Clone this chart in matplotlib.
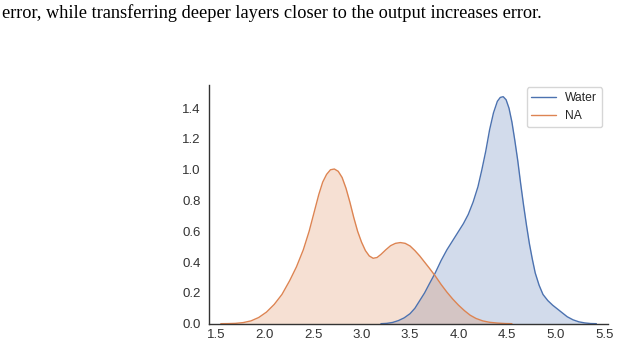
import numpy as np
import matplotlib
matplotlib.use('Agg')
import matplotlib.pyplot as plt
import seaborn as sns

# 密度曲線
na_x = [1.55, 1.62, 1.70, 1.78, 1.86, 1.94, 2.02, 2.10, 2.18, 2.26, 2.33, 2.40,
        2.46, 2.51, 2.56, 2.60, 2.64, 2.68, 2.72, 2.76, 2.80, 2.84, 2.88, 2.92,
        2.96, 3.00, 3.04, 3.08, 3.12, 3.16, 3.20, 3.25, 3.30, 3.35, 3.40, 3.45,
        3.50, 3.55, 3.60, 3.65, 3.70, 3.76, 3.82, 3.88, 3.94, 4.00, 4.06, 4.12,
        4.18, 4.25, 4.32, 4.40, 4.48, 4.55]
na_y = [0.0, 0.0005, 0.002, 0.007, 0.018, 0.040, 0.075, 0.125, 0.19, 0.28, 0.37, 0.48,
        0.60, 0.72, 0.84, 0.92, 0.97, 1.0, 1.005, 0.99, 0.95, 0.88, 0.79, 0.69,
        0.60, 0.53, 0.475, 0.44, 0.425, 0.43, 0.45, 0.48, 0.507, 0.522, 0.527, 0.522,
        0.505, 0.475, 0.44, 0.40, 0.36, 0.31, 0.255, 0.205, 0.16, 0.12, 0.085, 0.055,
        0.034, 0.018, 0.009, 0.004, 0.001, 0.0]

water_x = [3.20, 3.26, 3.32, 3.38, 3.44, 3.50, 3.55, 3.60, 3.65, 3.70, 3.76, 3.82,
           3.88, 3.94, 4.00, 4.05, 4.10, 4.15, 4.20, 4.24, 4.28, 4.32, 4.36, 4.40,
           4.43, 4.46, 4.49, 4.52, 4.55, 4.58, 4.61, 4.64, 4.67, 4.70, 4.73, 4.76,
           4.79, 4.83, 4.87, 4.92, 4.97, 5.02, 5.07, 5.12, 5.18, 5.24, 5.30, 5.36, 5.42]
water_y = [0.0, 0.002, 0.008, 0.02, 0.038, 0.065, 0.10, 0.15, 0.20, 0.26, 0.33, 0.41,
           0.48, 0.54, 0.60, 0.65, 0.71, 0.79, 0.89, 1.00, 1.12, 1.26, 1.37, 1.445,
           1.47, 1.475, 1.455, 1.40, 1.31, 1.19, 1.06, 0.91, 0.77, 0.64, 0.52, 0.42,
           0.33, 0.25, 0.19, 0.15, 0.12, 0.095, 0.07, 0.045, 0.025, 0.012, 0.005, 0.001, 0.0]

x_ticks = [1.5, 2.0, 2.5, 3.0, 3.5, 4.0, 4.5, 5.0, 5.5]
y_ticks = [0.0, 0.2, 0.4, 0.6, 0.8, 1.0, 1.2, 1.4]

caption = "error, while transferring deeper layers closer to the output increases error."

sns.set_style("white")
plt.rcParams['font.family'] = ['Liberation Sans', 'DejaVu Sans']

blue = '#4C72B0'
orange = '#DD8452'

fig = plt.figure(figsize=(6.17, 3.46), dpi=100)
ax = fig.add_axes([0.3387, 0.0645, 0.6467, 0.6899])

ax.plot(water_x, water_y, color=blue, lw=1.0, label='Water')
ax.fill_between(water_x, water_y, color=blue, alpha=0.25, lw=0)
ax.plot(na_x, na_y, color=orange, lw=1.0, label='NA')
ax.fill_between(na_x, na_y, color=orange, alpha=0.25, lw=0)

ax.set_xlim(1.428, 5.54)
ax.set_ylim(0, 1.551)
ax.set_xticks(x_ticks)
ax.set_yticks(y_ticks)
ax.tick_params(labelsize=9.5, colors='#333333', length=0)
ax.tick_params(axis='x', pad=4)
ax.tick_params(axis='y', pad=6)

for s in ['top', 'right']:
    ax.spines[s].set_visible(False)
for s in ['left', 'bottom']:
    ax.spines[s].set_color('#333333')
    ax.spines[s].set_linewidth(1.0)

# 凡例
ax.legend(loc='upper right', fontsize=8.7, frameon=True, bbox_to_anchor=(0.985, 0.99),
          borderaxespad=0.0, handlelength=2.0)

fig.text(2 / 617, 1 - 18 / 346, caption, family='Liberation Serif', fontsize=13.2,
         va='baseline', ha='left', color='black')

fig.savefig('out.png', dpi=100)
